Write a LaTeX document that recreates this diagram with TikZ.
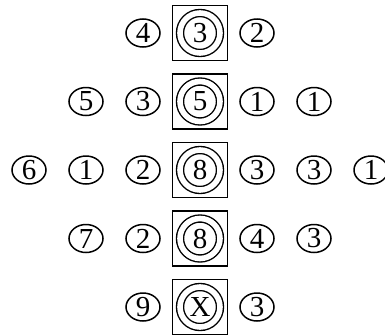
\documentclass[tikz,border=0pt]{standalone}
\usepackage{fontspec}
\setmainfont{Liberation Serif}
\usetikzlibrary{
    positioning,
    shapes.geometric
}

\begin{document}
\begin{tikzpicture}[
        x=1pt, y=1pt,
        on grid,
        node distance=68.5pt and 57pt,
        every node/.style={font=\fontsize{29}{34}\selectfont},
        num/.style={
            ellipse,
            draw,
            line width=1.5pt,
            inner sep=0pt,
            minimum width=34pt,
            minimum height=28pt
        },
        keysq/.style={
            rectangle,
            draw,
            line width=1.7pt,
            minimum size=55pt
        },
        ring/.style={
            circle,
            draw,
            double,
            line width=1.4pt,
            double distance=5.6pt,
            inner sep=0pt,
            minimum size=40pt
        }
    ]

    \useasboundingbox (0,0) rectangle (385,-335);

    % centre column
    \node[keysq] (sqA) at (200,-33) {};
    \node[keysq, below=of sqA] (sqB) {};
    \node[keysq, below=of sqB] (sqC) {};
    \node[keysq, below=of sqC] (sqD) {};
    \node[keysq, below=of sqD] (sqE) {};

    \node[ring] (ringA) at (sqA) {3};
    \node[ring] (ringB) at (sqB) {5};
    \node[ring] (ringC) at (sqC) {8};
    \node[ring] (ringD) at (sqD) {8};
    \node[ring] (ringE) at (sqE) {X};

    % row A
    \node[num, left=of sqA] (A-l1) {4};
    \node[num, right=of sqA] (A-r1) {2};

    % row B
    \node[num, left=of sqB] (B-l1) {3};
    \node[num, left=of B-l1] (B-l2) {5};
    \node[num, right=of sqB] (B-r1) {1};
    \node[num, right=of B-r1] (B-r2) {1};

    % row C
    \node[num, left=of sqC] (C-l1) {2};
    \node[num, left=of C-l1] (C-l2) {1};
    \node[num, left=of C-l2] (C-l3) {6};
    \node[num, right=of sqC] (C-r1) {3};
    \node[num, right=of C-r1] (C-r2) {3};
    \node[num, right=of C-r2] (C-r3) {1};

    % row D
    \node[num, left=of sqD] (D-l1) {2};
    \node[num, left=of D-l1] (D-l2) {7};
    \node[num, right=of sqD] (D-r1) {4};
    \node[num, right=of D-r1] (D-r2) {3};

    % row E
    \node[num, left=of sqE] (E-l1) {9};
    \node[num, right=of sqE] (E-r1) {3};

\end{tikzpicture}
\end{document}
